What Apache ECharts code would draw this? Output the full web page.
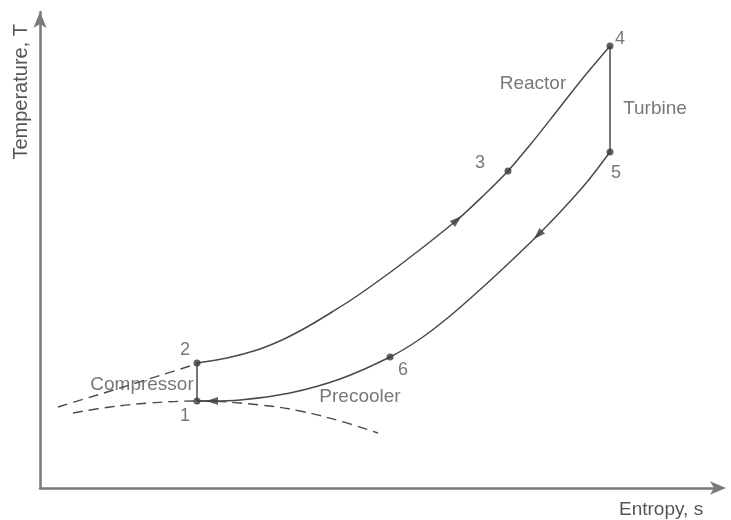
<!DOCTYPE html>
<html>
<head>
<meta charset="utf-8">
<script src="https://cdn.jsdelivr.net/npm/echarts@6/dist/echarts.min.js"></script>
<style>
  html, body { margin: 0; padding: 0; background: #fff; }
  #chart { width: 731px; height: 520px; }
</style>
</head>
<body>
<div id="chart"></div>
<script>
// Closed Brayton cycle on a T–s diagram (arbitrary units, no scale shown)

// State points of the cycle [entropy, temperature]
const statePoints = [
  { name: '1', value: [157, 87] },
  { name: '2', value: [157, 125] },
  { name: '3', value: [468, 317] },
  { name: '4', value: [570, 442] },
  { name: '5', value: [570, 336] },
  { name: '6', value: [350, 131] }
];

// Compression 1 -> 2
const compression = [[157, 87], [157, 125]];

// Heat addition 2 -> 3 -> 4 (recuperator + reactor)
const heating = [
  [157, 125], [187, 130], [217, 138], [242, 148], [267, 161],
  [292, 176], [317, 192], [360, 223], [417, 268], [443, 292],
  [468, 317], [490, 343], [517, 377], [543, 410], [570, 442]
];

// Expansion 4 -> 5
const expansion = [[570, 442], [570, 336]];

// Heat rejection 5 -> 6 -> 1 (recuperator + precooler)
const cooling = [
  [570, 336], [547, 306], [523, 279], [498, 253], [470, 226],
  [443, 201], [410, 172], [380, 149], [350, 131], [300, 109],
  [250, 95], [200, 88], [170, 87], [157, 87]
];

// Saturation dome (dashed)
const domeLeft = [[18, 81], [80, 100], [150, 122]];
const domeRight = [
  [33, 75], [70, 81], [110, 85], [158, 87], [220, 83],
  [260, 77], [300, 67], [338, 55]
];

// Flow-direction arrowheads [s, T, heading in degrees, counter-clockwise from +s]
const flowArrows = [
  [417, 268, 41],
  [498, 253, 225],
  [172, 87, 180]
];

// Process annotations [s, T, text]
const processLabels = [
  [102, 103, 'Compressor'],
  [320, 91, 'Precooler'],
  [493, 404, 'Reactor'],
  [615, 379, 'Turbine']
];

// Offsets of the state numbers relative to their points (px)
const numberOffsets = {
  '1': [-12, 15], '2': [-12, -13], '3': [-28, -8],
  '4': [10, -7], '5': [6, 21], '6': [13, 13]
};

const lineColor = '#4a4a4a';
const textColor = '#555555';
const axisColor = '#7a7a7a';
const font = 'Liberation Sans, Arial, sans-serif';

function pathSeries(data, dashed) {
  return {
    type: 'line',
    data: data,
    smooth: dashed ? 0.4 : 0.3,
    symbol: 'none',
    silent: true,
    lineStyle: {
      color: lineColor,
      width: dashed ? 1.4 : 1.5,
      type: dashed ? [10, 6] : 'solid'
    },
    z: 3
  };
}

const chart = echarts.init(document.getElementById('chart'));

chart.setOption({
  animation: false,
  backgroundColor: '#ffffff',
  grid: { left: 40, right: 11, top: 12, bottom: 32 },
  xAxis: {
    type: 'value', min: 0, max: 680,
    axisLine: {
      show: true, onZero: false,
      lineStyle: { color: axisColor, width: 2.5 },
      symbol: ['none', 'arrow'], symbolSize: [10, 16], symbolOffset: [0, 6]
    },
    axisTick: { show: false }, axisLabel: { show: false }, splitLine: { show: false }
  },
  yAxis: {
    type: 'value', min: 0, max: 476,
    axisLine: {
      show: true, onZero: false,
      lineStyle: { color: axisColor, width: 2.5 },
      symbol: ['none', 'arrow'], symbolSize: [10, 16]
    },
    axisTick: { show: false }, axisLabel: { show: false }, splitLine: { show: false }
  },
  graphic: [
    {
      type: 'text', left: 11, top: 24, rotation: Math.PI / 2, originX: 0, originY: 0,
      style: { text: 'Temperature, T', fill: textColor, font: '20px ' + font }
    },
    {
      type: 'text', left: 619, top: 500,
      style: { text: 'Entropy, s', fill: textColor, font: '19px ' + font }
    }
  ],
  series: [
    pathSeries(domeLeft, true),
    pathSeries(domeRight, true),
    pathSeries(compression, false),
    pathSeries(heating, false),
    pathSeries(expansion, false),
    pathSeries(cooling, false),
    {
      type: 'scatter',
      data: flowArrows.map(a => ({ value: [a[0], a[1]], symbolRotate: a[2] - 90 })),
      symbol: 'triangle',
      symbolSize: [8, 12],
      itemStyle: { color: '#3c3c3c' },
      silent: true,
      z: 5
    },
    {
      type: 'scatter',
      data: statePoints.map(p => ({
        name: p.name,
        value: p.value,
        label: { offset: numberOffsets[p.name] }
      })),
      symbol: 'circle',
      symbolSize: 7,
      itemStyle: { color: '#3a3a3a' },
      label: {
        show: true, position: 'inside', formatter: '{b}',
        color: textColor, fontSize: 18, fontFamily: font
      },
      silent: true,
      z: 6
    },
    {
      type: 'scatter',
      data: processLabels.map(l => ({ name: l[2], value: [l[0], l[1]] })),
      symbol: 'circle',
      symbolSize: 1,
      itemStyle: { color: 'rgba(0,0,0,0)' },
      label: {
        show: true, position: 'inside', formatter: '{b}',
        color: textColor, fontSize: 19, fontFamily: font
      },
      silent: true,
      z: 7
    }
  ]
});
</script>
</body>
</html>
